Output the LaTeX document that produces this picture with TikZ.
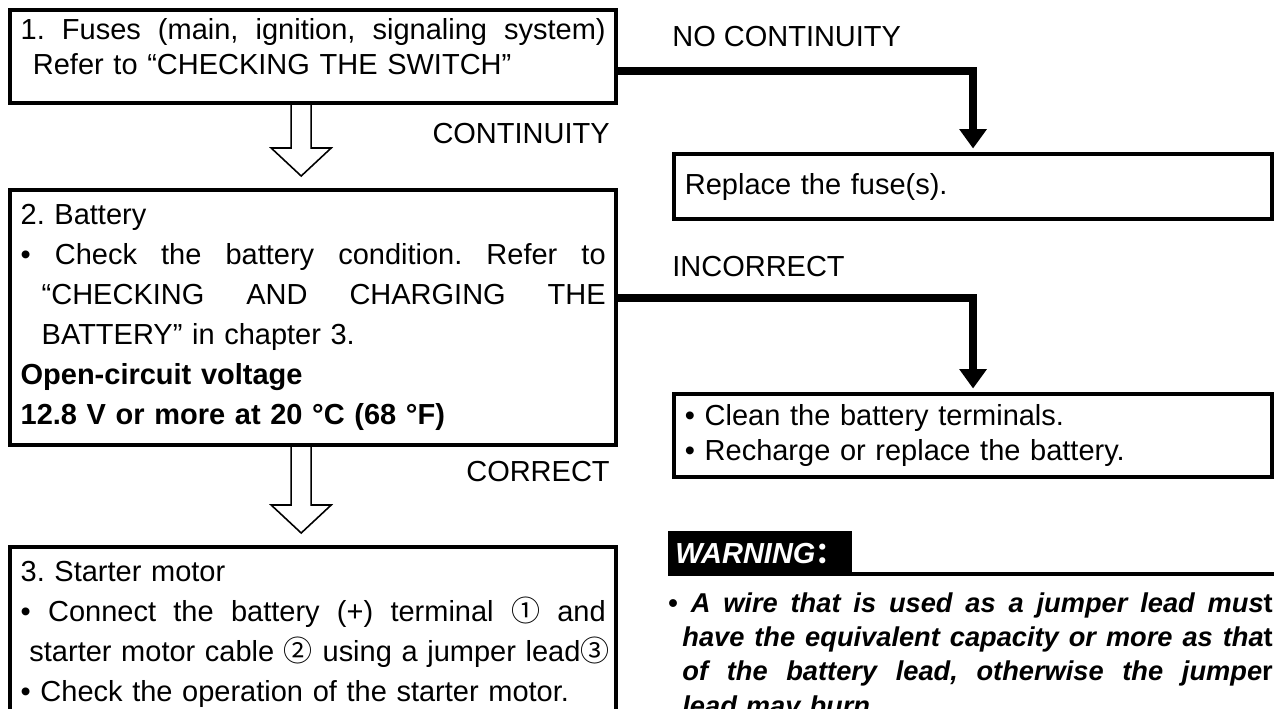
\documentclass[tikz,border=0pt]{standalone}
\usepackage{fontspec}
\setmainfont{Liberation Sans}
\newfontfamily\cjk{Noto Sans CJK SC}
\usepackage{tikz}
\usetikzlibrary{arrows.meta,positioning,calc}

% one line spread over the full width (optional indent)
\newlength{\jw}
\newcommand{\jline}[2][0pt]{\leavevmode\hspace*{#1}\hbox to \dimexpr\jw-#1\relax{\spaceskip=0.25em plus 1fil\relax #2}}
\frenchspacing

\begin{document}
\begin{tikzpicture}[
    x=0.02cm, y=-0.02cm,
    font=\fontsize{16.5}{19.6}\selectfont,
    box/.style={rectangle, draw, line width=2.4pt, anchor=north west, align=left, inner xsep=6pt, inner ysep=0pt},
    leftbox/.style={box, minimum width=12.12cm, text width=333pt, execute at begin node={\setlength{\jw}{333pt}}},
    rightbox/.style={box, minimum width=11.96cm, text width=328pt},
    wide/.style={font=\fontsize{16.5}{22.7}\selectfont},
    hollow/.style={draw, line width=0.9pt, line join=miter},
    elbow/.style={line width=4.5pt, -{Triangle[width=15pt,length=11pt]}, shorten >=2pt},
    branch/.style={inner sep=0pt},
    warnbox/.style={fill=black, text=white, anchor=north west, minimum width=3.6cm, minimum height=0.9cm, inner xsep=4pt, font=\fontsize{16.5}{19.6}\selectfont\bfseries\itshape}
]
\useasboundingbox (0,0) rectangle (1274,708);
\clip (0,0) rectangle (1274,708);

% Left column: checks
\node[leftbox, minimum height=1.86cm] (fuses) at (8,8) {\jline{1. Fuses (main, ignition, signaling system)}\\
  \hspace*{7pt}Refer to “CHECKING THE SWITCH”\\[-8pt]\mbox{}};
\node[leftbox, wide, minimum height=5.1cm] (battery) at (8,188) {2. Battery\\
  \jline{• Check the battery condition. Refer to}\\
  \jline[12pt]{“CHECKING AND CHARGING THE}\\
  \hspace*{12pt}BATTERY” in chapter 3.\\
  \textbf{Open-circuit voltage}\\
  \textbf{12.8 V or more at 20 °C (68 °F)}};
\node[leftbox, wide, inner ysep=8pt] (starter) at (8,545) {3. Starter motor\\
  \jline{• Connect the battery (+) terminal {\cjk ①} and}\\
  \hspace*{5pt}\mbox{starter motor cable {\cjk ②} using a jumper lead{\cjk ③}}\\
  • Check the operation of the starter motor.};

\node[branch, anchor=east] (cont) at (610,134) {CONTINUITY};
\node[branch, anchor=east] (corr) at (610,472) {CORRECT};

% hollow down arrows
\draw[hollow] ($(fuses.south)+(-22,0)$) -- ($(battery.north)+(-22,-40)$) -- ($(battery.north)+(-42,-40)$)
  -- ($(battery.north)+(-12,-12)$) -- ($(battery.north)+(18,-40)$) -- ($(battery.north)+(-2,-40)$) -- ($(fuses.south)+(-2,0)$);
\draw[hollow] ($(battery.south)+(-22,0)$) -- ($(starter.north)+(-22,-40)$) -- ($(starter.north)+(-42,-40)$)
  -- ($(starter.north)+(-12,-12)$) -- ($(starter.north)+(18,-40)$) -- ($(starter.north)+(-2,-40)$) -- ($(battery.south)+(-2,0)$);

% Right column: remedies
\node[branch, anchor=west] (nocont) at (672,37) {NO CONTINUITY};
\node[rightbox, minimum height=1.3cm] (replace) at (672,152) {Replace the fuse(s).};
\node[branch, anchor=west] (incorr) at (672,267) {INCORRECT};
\node[rightbox, minimum height=1.66cm] (clean) at (672,392) {• Clean the battery terminals.\\
  • Recharge or replace the battery.};

\draw[elbow] ([yshift=-8.2pt]fuses.east) -| (replace.north);
\draw[elbow] ([yshift=11pt]battery.east) -| (clean.north);

% Warning
\node[warnbox] (warn) at (668,531) {WARNING{\cjk ：}};
\coordinate (ruleend) at (1274,574);
\draw[line width=2.3pt] (warn.south east |- ruleend) -- (ruleend);
\node[anchor=north west, inner sep=0pt, text width=344pt, align=left, font=\fontsize{15.5}{19.6}\selectfont\bfseries,
      execute at begin node={\setlength{\jw}{344pt}}] (warntext) at (668,592) {%
  \jline{• \textit{A wire that is used as a jumper lead mus}t}\\
  \jline[8pt]{\textit{have the equivalent capacity or more as tha}t}\\
  \jline[8pt]{\textit{of the battery lead, otherwise the jumpe}r}\\
  \hspace*{8pt}\textit{lead may burn.}};
\end{tikzpicture}
\end{document}
